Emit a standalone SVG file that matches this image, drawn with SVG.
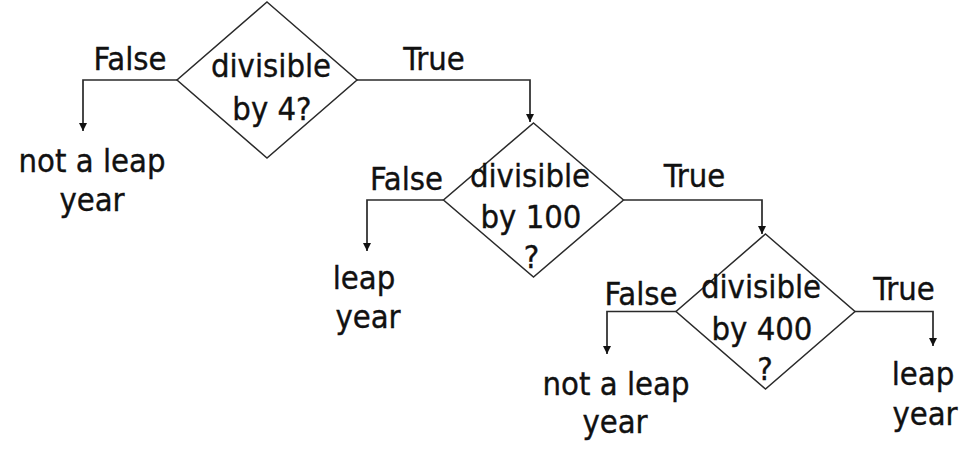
<svg xmlns="http://www.w3.org/2000/svg" width="965" height="459" viewBox="0 0 965 459">
<style>
text{font-family:"DejaVu Sans Condensed","DejaVu Sans",sans-serif;font-stretch:condensed;font-size:32.5px;fill:#111;stroke:#111;stroke-width:0.35;text-anchor:middle}
.d{fill:#fff;stroke:#2a2a2a;stroke-width:1.5}
.c{fill:none;stroke:#2a2a2a;stroke-width:1.7}
</style>
<defs>
<marker id="ah" viewBox="0 0 10 10" refX="10" refY="5" markerWidth="8" markerHeight="10" markerUnits="userSpaceOnUse" orient="auto">
<path d="M0,0 L10,5 L0,10 Z" fill="#111"/>
</marker>
</defs>
<rect width="965" height="459" fill="#fff"/>
<g id="connectors">
<path class="c" d="M177,80 H83 V131" marker-end="url(#ah)"/>
<path class="c" d="M357,80 H530 V122" marker-end="url(#ah)"/>
<path class="c" d="M443.5,200 H367 V251" marker-end="url(#ah)"/>
<path class="c" d="M623.5,200 H762 V234" marker-end="url(#ah)"/>
<path class="c" d="M676,311.5 H607 V354" marker-end="url(#ah)"/>
<path class="c" d="M855,311.5 H933 V346" marker-end="url(#ah)"/>
<text x="130" y="70">False</text>
<text x="434" y="70">True</text>
<text x="406.5" y="190">False</text>
<text x="694.5" y="187">True</text>
<text x="641" y="305">False</text>
<text x="904" y="299.5">True</text>
</g>
<g id="node-div4">
<polygon class="d" points="267,2 357,80 267,158 177,80"/>
<text x="271" y="77">divisible</text>
<text x="272" y="120">by 4?</text>
</g>
<g id="node-div100">
<polygon class="d" points="533.5,123 623.5,200 533.5,277 443.5,200"/>
<text x="530" y="187">divisible</text>
<text x="531" y="228">by 100</text>
<text x="531.5" y="268">?</text>
</g>
<g id="node-div400">
<polygon class="d" points="765.5,234 855,311.5 765.5,389 676,311.5"/>
<text x="761" y="298">divisible</text>
<text x="762" y="340">by 400</text>
<text x="765" y="380">?</text>
</g>
<g id="node-notleap1">
<text x="92" y="172">not a leap</text>
<text x="92" y="211">year</text>
</g>
<g id="node-leap1">
<text x="364" y="289">leap</text>
<text x="368" y="328">year</text>
</g>
<g id="node-notleap2">
<text x="616" y="395">not a leap</text>
<text x="615" y="433">year</text>
</g>
<g id="node-leap2">
<text x="923" y="385">leap</text>
<text x="925" y="425">year</text>
</g>
</svg>
